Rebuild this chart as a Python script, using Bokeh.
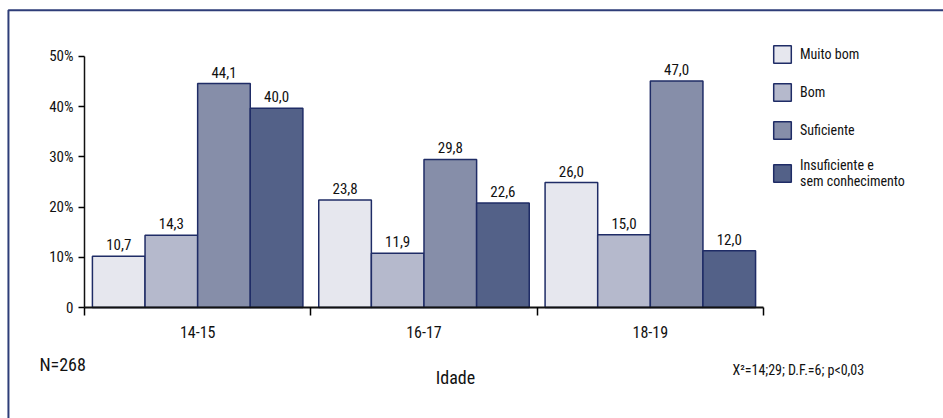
from bokeh.plotting import figure
from bokeh.models import (Range1d, FixedTicker, Legend, LegendItem, Label,
                          ColumnDataSource)
from bokeh.embed import file_html
from bokeh.resources import INLINE
from bokeh.core.properties import value
import numpy as np

# ---------------- data ----------------
age_groups = ["14-15", "16-17", "18-19"]
series_names = ["Muito bom", "Bom", "Suficiente", "Insuficiente e\nsem conhecimento"]

# printed percentages (labels above bars)
muito_bom_pct = [10.7, 23.8, 26.0]
bom_pct = [14.3, 11.9, 15.0]
suficiente_pct = [44.1, 29.8, 47.0]
insuficiente_pct = [40.0, 22.6, 12.0]

# bar heights as drawn in the picture
muito_bom_bar = [10.2, 21.4, 24.9]
bom_bar = [14.4, 10.8, 14.5]
suficiente_bar = [44.6, 29.5, 45.1]
insuficiente_bar = [39.7, 20.8, 11.3]

y_ticks = [0, 10, 20, 30, 40, 50]
y_tick_labels = ["0", "10%", "20%", "30%", "40%", "50%"]

sample_note = "N=268"
x_title = "Idade"
stat_note = "X\u00b2=14;29; D.F.=6; p<0,03"

# ---------------- style ----------------
FONT = "'Roboto Condensed', 'DejaVu Sans Condensed', 'Liberation Sans Narrow', Roboto, sans-serif"
colors = ["#e6e7ee", "#b5b9cc", "#868ea9", "#536188"]
outline = "#1f2c66"

X0, X1 = -0.3711, 3.7953
Y0, Y1 = -22.11, 61.155

# frame covers the whole canvas; axes are pinned with fixed_location
p = figure(width=943, height=418,
           x_range=Range1d(X0, X1), y_range=Range1d(Y0, Y1),
           output_backend="svg", toolbar_location=None,
           min_border=0, min_border_left=0, min_border_right=0,
           min_border_top=0, min_border_bottom=0)
p.grid.visible = False
p.outline_line_color = None
p.background_fill_color = "white"
p.border_fill_color = "white"

# outer chart border: only its top and left edges fall inside the picture
p.line(x=[-0.336, -0.336, X1], y=[Y0, 59.2, 59.2], line_color="#2e3d78", line_width=2)

bar_w = 0.2325
group_x = np.arange(len(age_groups)) + 0.5
bars = [muito_bom_bar, bom_bar, suficiente_bar, insuficiente_bar]
pcts = [muito_bom_pct, bom_pct, suficiente_pct, insuficiente_pct]

items = []
for j, (name, h, pct, c) in enumerate(zip(series_names, bars, pcts, colors)):
    xs = group_x + (j - 1.5) * bar_w
    src = ColumnDataSource(dict(x=xs, top=h,
                                label=[f"{v:.1f}".replace(".", ",") for v in pct]))
    r = p.vbar(x="x", top="top", bottom=0, width=bar_w, source=src,
               fill_color=c, line_color=outline, line_width=1.5)
    p.text(x="x", y="top", text="label", source=src, text_align="center",
           text_baseline="bottom", y_offset=-6, text_font=value(FONT),
           text_font_size="15px", text_color="#111111")
    items.append(LegendItem(label=name, renderers=[r]))

# x axis
xa = p.xaxis[0]
xa.fixed_location = 0
xa.bounds = (0, 3)
xa.ticker = FixedTicker(ticks=list(group_x), minor_ticks=[0, 1, 2, 3])
xa.major_label_overrides = {float(g): lab for g, lab in zip(group_x, age_groups)}
xa.major_tick_out = 0
xa.major_tick_in = 0
xa.minor_tick_out = 8
xa.minor_tick_in = 0
xa.minor_tick_line_color = "black"
xa.minor_tick_line_width = 1.5
xa.axis_line_width = 2
xa.axis_line_color = "#111111"
xa.major_label_standoff = 10
xa.major_label_text_font = FONT
xa.major_label_text_font_size = "16px"
xa.major_label_text_color = "#111111"

# y axis
ya = p.yaxis[0]
ya.fixed_location = 0
ya.bounds = (0, 50)
ya.ticker = FixedTicker(ticks=y_ticks, minor_ticks=[])
ya.major_label_overrides = {t: lab for t, lab in zip(y_ticks, y_tick_labels)}
ya.major_tick_out = 6
ya.major_tick_in = 0
ya.minor_tick_out = 0
ya.minor_tick_in = 0
ya.major_tick_line_width = 1.5
ya.axis_line_width = 1.5
ya.axis_line_color = "#111111"
ya.major_label_standoff = 5
ya.major_label_text_font = FONT
ya.major_label_text_font_size = "15px"
ya.major_label_text_color = "#111111"

legend = Legend(items=items, location=(771, 229), glyph_width=22, glyph_height=22,
                spacing=16, label_standoff=7, padding=0, margin=0,
                border_line_color=None, background_fill_alpha=0,
                label_text_font=FONT, label_text_font_size="14px",
                label_text_color="#111111")
p.add_layout(legend)

p.add_layout(Label(x=-0.199, y=-11.4, text=sample_note, text_font=FONT,
                   text_font_size="18px", text_baseline="middle", text_color="#111111"))
p.add_layout(Label(x=1.639, y=-13.9, text=x_title, text_font=FONT,
                   text_font_size="18px", text_align="center", text_baseline="middle",
                   text_color="#111111"))
p.add_layout(Label(x=2.863, y=-12.35, text=stat_note, text_font=FONT,
                   text_font_size="14px", text_baseline="middle", text_color="#111111"))

open("out.html", "w").write(file_html(p, INLINE))
